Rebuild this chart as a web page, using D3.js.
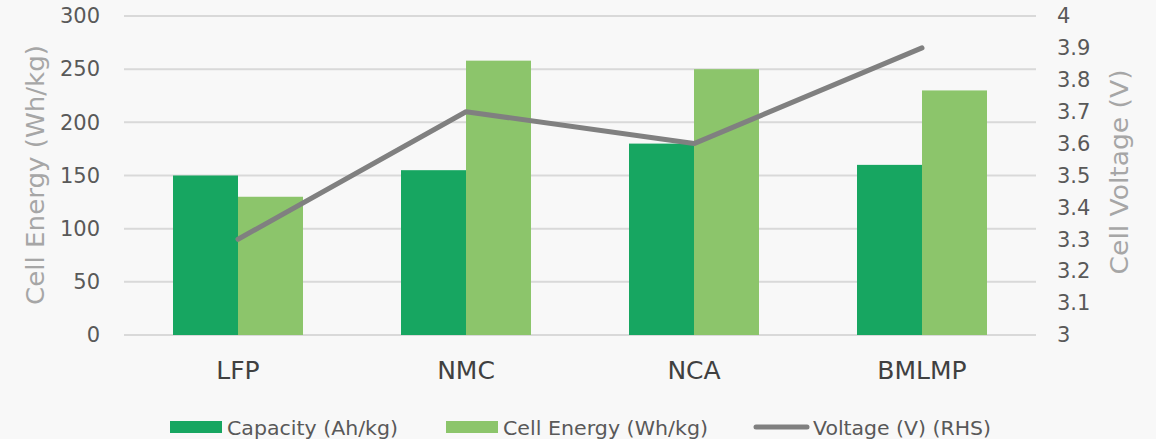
<!DOCTYPE html>
<html><head><meta charset="utf-8">
<script src="https://cdn.jsdelivr.net/npm/d3@7/dist/d3.min.js"></script>
<style>body{margin:0;background:#f8f8f8;}svg{display:block;}</style>
</head><body><svg id="c" width="1156" height="439"></svg>
<script>
const categories = ["LFP","NMC","NCA","BMLMP"];
const capacity = [150,155,180,160];
const cellEnergy = [130,258,250,230];
const voltage = [3.3,3.7,3.6,3.9];
const leftTicks = [0,50,100,150,200,250,300];
const rightTicks = [3,3.1,3.2,3.3,3.4,3.5,3.6,3.7,3.8,3.9,4];
const seriesNames = ["Capacity (Ah/kg)","Cell Energy (Wh/kg)","Voltage (V) (RHS)"];

const svg = d3.select("#c");
const font = "'DejaVu Sans', 'Noto Sans', sans-serif";
const L=124, R=1036, T=16, B=335;
const x = d3.scaleBand().domain(categories).range([L,R]);
const yL = d3.scaleLinear().domain([0,300]).range([B,T]);
const yR = d3.scaleLinear().domain([3,4]).range([B,T]);
const dark="#17a661", light="#8cc56b", gray="#808080";

svg.append("rect").attr("width",1156).attr("height",439).attr("fill","#f8f8f8");
svg.append("g").selectAll("line").data(leftTicks).join("line")
  .attr("x1",L).attr("x2",R).attr("y1",d=>yL(d)).attr("y2",d=>yL(d))
  .attr("stroke","#d9d9d9").attr("stroke-width",2);

const bw = 65;
const g = svg.append("g");
g.selectAll(".cap").data(categories).join("rect")
  .attr("x",d=>x(d)+x.bandwidth()/2-bw).attr("width",bw)
  .attr("y",(d,i)=>yL(capacity[i])).attr("height",(d,i)=>B-yL(capacity[i])).attr("fill",dark);
g.selectAll(".en").data(categories).join("rect")
  .attr("x",d=>x(d)+x.bandwidth()/2).attr("width",bw)
  .attr("y",(d,i)=>yL(cellEnergy[i])).attr("height",(d,i)=>B-yL(cellEnergy[i])).attr("fill",light);

svg.append("path").datum(categories)
  .attr("d",d3.line().x(d=>x(d)+x.bandwidth()/2).y((d,i)=>yR(voltage[i])))
  .attr("fill","none").attr("stroke",gray).attr("stroke-width",5).attr("stroke-linecap","round").attr("stroke-linejoin","round");

const axL = svg.append("g").attr("transform",`translate(100,0)`)
  .call(d3.axisLeft(yL).tickValues(leftTicks).tickSize(0).tickPadding(0));
axL.select(".domain").remove();
axL.selectAll("text").attr("font-family",font).attr("font-size",21).attr("fill","#595959");
const axR = svg.append("g").attr("transform",`translate(1057,0)`)
  .call(d3.axisRight(yR).tickValues(rightTicks).tickSize(0).tickPadding(0).tickFormat(d=>String(+d.toFixed(1))));
axR.select(".domain").remove();
axR.selectAll("text").attr("font-family",font).attr("font-size",21).attr("fill","#595959");
const axX = svg.append("g").attr("transform",`translate(0,${B})`)
  .call(d3.axisBottom(x).tickSize(0).tickPadding(0));
axX.select(".domain").remove();
axX.selectAll("text").attr("font-family",font).attr("font-size",25).attr("fill","#404040")
  .attr("dy",null).attr("y",44);

svg.append("text").attr("transform","translate(44,175) rotate(-90)").attr("text-anchor","middle")
  .attr("font-family",font).attr("font-size",24).attr("fill","#a6a6a6")
  .attr("textLength",260).attr("lengthAdjust","spacingAndGlyphs").text("Cell Energy (Wh/kg)");
svg.append("text").attr("transform","translate(1128,172) rotate(-90)").attr("text-anchor","middle")
  .attr("font-family",font).attr("font-size",24).attr("fill","#a6a6a6")
  .attr("textLength",205).attr("lengthAdjust","spacingAndGlyphs").text("Cell Voltage (V)");

const lg = svg.append("g").attr("font-family",font).attr("font-size",19).attr("fill","#595959");
lg.append("rect").attr("x",170).attr("y",421).attr("width",52).attr("height",12).attr("fill",dark);
lg.append("rect").attr("x",446).attr("y",421).attr("width",52).attr("height",12).attr("fill",light);
lg.append("line").attr("x1",756).attr("x2",807).attr("y1",427).attr("y2",427)
  .attr("stroke",gray).attr("stroke-width",5).attr("stroke-linecap","round");
const tx=[227,503,813], tl=[171,205,178];
seriesNames.forEach((s,i)=>lg.append("text").attr("x",tx[i]).attr("y",435)
  .attr("textLength",tl[i]).attr("lengthAdjust","spacingAndGlyphs").text(s));
</script></body></html>
